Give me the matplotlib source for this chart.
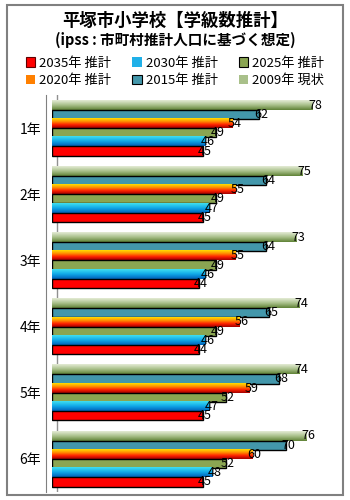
import numpy as np
import matplotlib
matplotlib.use('Agg')
import matplotlib.pyplot as plt
from matplotlib.colors import LinearSegmentedColormap
from matplotlib.patches import Rectangle, Patch

plt.rcParams['font.family'] = ['Noto Sans CJK JP', 'DejaVu Sans']

# Data
grades = ['1年', '2年', '3年', '4年', '5年', '6年']
series_names = ['2009年 現状', '2015年 推計', '2020年 推計',
                '2025年 推計', '2030年 推計', '2035年 推計']
v2009 = [78, 75, 73, 74, 74, 76]
v2015 = [62, 64, 64, 65, 68, 70]
v2020 = [54, 55, 55, 56, 59, 60]
v2025 = [49, 49, 49, 49, 52, 52]
v2030 = [46, 47, 46, 46, 47, 48]
v2035 = [45, 45, 44, 44, 45, 45]
values = [v2009, v2015, v2020, v2025, v2030, v2035]

# Styles: solid colour or gradient (top -> bottom)
CMAPS = {
    0: LinearSegmentedColormap.from_list('g09', ['#e4ecd6', '#a9c08a', '#5f8236']),
    2: LinearSegmentedColormap.from_list('g20', ['#ffe000', '#ff9000', '#ff2000', '#a00000']),
    4: LinearSegmentedColormap.from_list('g30', ['#40e0f0', '#10a8e8', '#0060b8']),
}
SOLID = {1: '#4397ab', 3: '#8aa552', 5: '#ff0000'}

fig = plt.figure(figsize=(3.5, 5), dpi=100)
ax = fig.add_axes([52 / 350, 1 - 492 / 500, (343 - 52) / 350, (492 - 95) / 500])

bar_h = 0.139
grad = np.linspace(0, 1, 64).reshape(-1, 1)
for j, vals in enumerate(values):
    for i, v in enumerate(vals):
        y = i + (j - 2.5) * bar_h
        if j in SOLID:
            ax.barh(y, v, height=bar_h, color=SOLID[j], edgecolor='black',
                    linewidth=1.0, zorder=3)
        else:
            ax.imshow(grad, cmap=CMAPS[j], aspect='auto', origin='upper',
                      extent=(0, v, y + bar_h / 2, y - bar_h / 2), zorder=3,
                      interpolation='bilinear')

# value labels on top of all bars
for j, vals in enumerate(values):
    for i, v in enumerate(vals):
        y = i + (j - 2.5) * bar_h
        ax.text(v + 0.6, y, str(v), ha='center', va='center',
                fontsize=9, color='black', zorder=10)

ax.set_xlim(0, 87)
ax.set_ylim(5.5, -0.5)
ax.set_yticks(range(len(grades)))
ax.set_yticklabels(grades, fontsize=9)
ax.tick_params(axis='y', length=0, pad=4)
ax.set_xticks([])
for s in ['top', 'right', 'bottom']:
    ax.spines[s].set_visible(False)
ax.spines['left'].set_color('#808080')
ax.spines['left'].set_position(('outward', 4))
ax.axvline(1.5, color='#909090', linewidth=1, zorder=1)

# Title
fig.text(0.5, 1 - 21 / 500, '平塚市小学校【学級数推計】', ha='center', va='center',
         fontsize=12.5, fontweight='bold')
fig.text(0.5, 1 - 40 / 500, '(ipss : 市町村推計人口に基づく想定)', ha='center',
         va='center', fontsize=10.5, fontweight='bold')

# Legend (column-wise fill)
legend_style = {
    0: dict(facecolor='#a9c08a', edgecolor='none'),
    1: dict(facecolor='#4397ab', edgecolor='black'),
    2: dict(facecolor='#ff8000', edgecolor='none'),
    3: dict(facecolor='#8aa552', edgecolor='black'),
    4: dict(facecolor='#20b0e8', edgecolor='none'),
    5: dict(facecolor='#ff0000', edgecolor='#600000'),
}
order = [5, 2, 4, 1, 3, 0]
handles = [Patch(linewidth=0.8, **legend_style[k]) for k in order]
labels = [series_names[k] for k in order]
fig.legend(handles, labels, loc='center', bbox_to_anchor=(0.5, 1 - 72 / 500),
           ncol=3, frameon=False, fontsize=9.5, handlelength=0.7, handleheight=0.7,
           handletextpad=0.3, columnspacing=1.6, labelspacing=0.35,
           borderaxespad=0)

# Outer chart frame
fig.patches.append(Rectangle((7 / 350, 5 / 500), 336 / 350, 490 / 500,
                             transform=fig.transFigure, fill=False,
                             edgecolor='#808080', linewidth=1.5))

fig.savefig('out.png', dpi=100)
